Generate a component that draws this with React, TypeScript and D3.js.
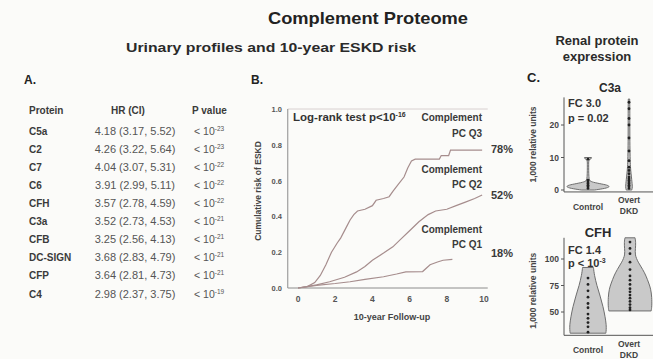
import * as d3 from "d3";

// ---- panel A: table ----
const proteins = ["C5a", "C2", "C7", "C6", "CFH", "C3a", "CFB", "DC-SIGN", "CFP", "C4"];
const hr = [4.18, 4.26, 4.04, 3.91, 3.57, 3.52, 3.25, 3.68, 3.64, 2.98];
const ciLow = [3.17, 3.22, 3.07, 2.99, 2.78, 2.73, 2.56, 2.83, 2.81, 2.37];
const ciHigh = [5.52, 5.64, 5.31, 5.11, 4.59, 4.53, 4.13, 4.79, 4.73, 3.75];
const pExp = [-23, -23, -22, -22, -22, -21, -21, -21, -21, -19];

// ---- panel B: cumulative ESKD risk by follow-up year ----
const q3Time = [0, 0.5, 0.9, 1.2, 1.5, 1.8, 2.1, 2.3, 2.6, 2.8, 3.0, 3.2, 3.6, 4.0, 4.2, 4.6, 4.9, 5.1, 5.4, 5.7, 5.9, 6.1, 6.3, 7.6, 7.7, 8.1, 8.2, 9.9];
const q3Risk = [0, 0.008, 0.03, 0.07, 0.13, 0.2, 0.25, 0.28, 0.34, 0.38, 0.41, 0.43, 0.44, 0.46, 0.49, 0.5, 0.51, 0.54, 0.58, 0.62, 0.67, 0.71, 0.72, 0.72, 0.74, 0.74, 0.77, 0.77];
const q2Time = [0, 1, 1.7, 2.5, 3.15, 3.6, 4, 4.6, 5.1, 5.5, 6.0, 6.5, 7.0, 7.4, 8.0, 8.5, 9.0, 9.5, 9.9];
const q2Risk = [0, 0.017, 0.035, 0.06, 0.09, 0.12, 0.155, 0.195, 0.23, 0.27, 0.32, 0.37, 0.41, 0.43, 0.44, 0.46, 0.48, 0.5, 0.52];
const q1Time = [0, 1, 2, 2.8, 3.6, 4.6, 5.3, 5.8, 6.7, 7.1, 7.5, 7.8, 8.3];
const q1Risk = [0, 0.015, 0.025, 0.035, 0.048, 0.063, 0.078, 0.09, 0.092, 0.13, 0.145, 0.155, 0.16];
const groupNames = ["PC Q3", "PC Q2", "PC Q1"];
const groupPct = ["78%", "52%", "18%"];
const xTicks = [0, 2, 4, 6, 8, 10];
const yTicks = [0, 0.2, 0.4, 0.6, 0.8, 1.0];

// ---- panel C: violins (value, relative density) ----
const c3aControlVal = [0, 0.5, 1, 1.5, 2, 2.5, 3, 4, 6, 8, 9.4, 9.6, 10];
const c3aControlDen = [0.3, 0.8, 1, 0.9, 0.5, 0.15, 0.06, 0.04, 0.03, 0.03, 0.03, 0.16, 0.16];
const c3aOvertVal = [0, 1, 2, 3, 5, 7, 10, 15, 20, 25, 28];
const c3aOvertDen = [0.2, 0.25, 0.22, 0.2, 0.15, 0.1, 0.08, 0.06, 0.06, 0.06, 0.05];
const c3aControlPts = [0.5, 1, 1.5, 2, 2.5, 3, 9.5];
const c3aOvertPts = [0.5, 1, 1.5, 2, 2.5, 3, 3.5, 4, 5, 6, 7, 9, 12, 16, 20, 22, 25, 27];
const cfhControlVal = [30, 33, 38, 45, 55, 65, 75, 85, 92];
const cfhControlDen = [0.85, 0.87, 0.87, 0.82, 0.72, 0.58, 0.42, 0.3, 0.26];
const cfhOvertVal = [51, 55, 64, 72, 77, 84, 90, 97, 104, 110, 116, 120];
const cfhOvertDen = [0.92, 0.95, 0.95, 0.9, 0.82, 0.7, 0.56, 0.35, 0.21, 0.24, 0.25, 0.22];
const cfhControlPts = [31, 36, 40, 44, 48, 54, 58, 64, 70, 76, 82];
const cfhOvertPts = [52, 54, 57, 60, 63, 66, 69, 72, 76, 80, 84, 90, 97, 105, 110, 116];

const FONT = "Liberation Sans, Arial, sans-serif";
const lineColor = "#a68d8d";
const axisColor = "#8c8c8c";

function zip(a: number[], b: number[]): [number, number][] {
  return a.map((v, i) => [v, b[i]]);
}

function Violin({ vals, dens, pts, cx, y, halfMax }: { vals: number[]; dens: number[]; pts: number[]; cx: number; y: d3.ScaleLinear<number, number>; halfMax: number }) {
  const w = d3.scaleLinear().domain([0, 1]).range([0, halfMax]);
  const area = d3
    .area<[number, number]>()
    .y((d) => y(d[0]))
    .x0((d) => cx - w(d[1]))
    .x1((d) => cx + w(d[1]))
    .curve(d3.curveBasis);
  return (
    <g>
      <path d={area(zip(vals, dens)) ?? ""} fill="#c9c9c9" stroke="#6e6e6e" strokeWidth={1} />
      {pts.map((p, i) => (
        <circle key={i} cx={cx} cy={y(p)} r={1.4} fill="#222" />
      ))}
    </g>
  );
}

export default function App() {
  // panel A
  const rowY = d3.scalePoint<string>().domain(proteins).range([131, 294]);

  // panel B
  const x = d3.scaleLinear().domain([0, 10]).range([298, 484]);
  const y = d3.scaleLinear().domain([0, 1]).range([288, 109]);
  const km = d3
    .line<[number, number]>()
    .x((d) => x(d[0]))
    .y((d) => y(d[1]));
  const curves = [zip(q3Time, q3Risk), zip(q2Time, q2Risk), zip(q1Time, q1Risk)];
  const labelY = [[121, 137], [173, 188], [233, 248]];
  const pctY = [153, 199, 257];

  // panel C
  const yC3a = d3.scaleLinear().domain([0, 20]).range([190, 125]);
  const yCfh = d3.scaleLinear().domain([50, 100]).range([312, 259]);
  const cxCtrl = 588;
  const cxOvert = 629;

  return (
    <svg width={653} height={359} style={{ position: "absolute", left: 0, top: 0, background: "#fbfbf9" }} fontFamily={FONT}>
      {/* titles */}
      <text x={368} y={24} textAnchor="middle" fontSize={17} fontWeight="bold" fill="#222" textLength={200} lengthAdjust="spacingAndGlyphs">Complement Proteome</text>
      <text x={271} y={52} textAnchor="middle" fontSize={13.5} fontWeight="bold" fill="#2a2a2a" textLength={290} lengthAdjust="spacingAndGlyphs">Urinary profiles and 10-year ESKD risk</text>
      <text x={597} y={45} textAnchor="middle" fontSize={13} fontWeight="bold" fill="#2a2a2a">Renal protein</text>
      <text x={597} y={61} textAnchor="middle" fontSize={13} fontWeight="bold" fill="#2a2a2a">expression</text>

      {/* A. table */}
      <text x={24} y={84} fontSize={12} fontWeight="bold" fill="#222">A.</text>
      <g fontSize={10} fontWeight="bold" fill="#3a3a3a">
        <text x={29} y={114}>Protein</text>
        <text x={128} y={114} textAnchor="middle">HR (CI)</text>
        <text x={192} y={114}>P value</text>
      </g>
      {proteins.map((p, i) => (
        <g key={p} transform={`translate(0,${rowY(p)! + 3.5})`}>
          <text x={29} y={0} fontSize={10} fontWeight="bold" fill="#3a3a3a">{p}</text>
          <text x={135} y={0} fontSize={11} textAnchor="middle" fill="#555">
            {`${hr[i].toFixed(2)} (${ciLow[i].toFixed(2)}, ${ciHigh[i].toFixed(2)})`}
          </text>
          <text x={194} y={0} fontSize={10.5} fill="#555">
            {"< 10"}
            <tspan dy={-4} fontSize={6.5}>{pExp[i]}</tspan>
          </text>
        </g>
      ))}

      {/* B. Kaplan-Meier */}
      <text x={251} y={84} fontSize={12} fontWeight="bold" fill="#222">B.</text>
      <line x1={x(-0.55)} x2={x(10.2)} y1={y(1)} y2={y(1)} stroke="#d8d0d0" />
      <line x1={x(-0.55)} x2={x(-0.55)} y1={y(1)} y2={y(0)} stroke={axisColor} />
      <line x1={x(-0.55)} x2={x(10.2)} y1={y(0)} y2={y(0)} stroke={axisColor} />
      {yTicks.map((t) => (
        <text key={t} x={282} y={y(t) + 3} textAnchor="end" fontSize={7.5} fontWeight="bold" fill="#555">{t.toFixed(1)}</text>
      ))}
      {xTicks.map((t) => (
        <text key={t} x={x(t)} y={302} textAnchor="middle" fontSize={8.5} fontWeight="bold" fill="#555">{t}</text>
      ))}
      <text x={392} y={320} textAnchor="middle" fontSize={9} fontWeight="bold" fill="#444">10-year Follow-up</text>
      <text transform="translate(261,191) rotate(-90)" textAnchor="middle" fontSize={8.5} fontWeight="bold" fill="#444">Cumulative risk of ESKD</text>
      {curves.map((c, i) => (
        <path key={i} d={km(c) ?? ""} fill="none" stroke={lineColor} strokeWidth={1.2} />
      ))}
      <text x={293} y={121} fontSize={11.5} fontWeight="bold" fill="#333">
        Log-rank test p&lt;10
        <tspan dy={-4} fontSize={7}>-16</tspan>
      </text>
      {groupNames.map((g, i) => (
        <g key={g} fontSize={10} fontWeight="bold" fill="#3a3a3a" textAnchor="end">
          <text x={482} y={labelY[i][0]}>Complement</text>
          <text x={482} y={labelY[i][1]}>{g}</text>
          <text x={491} y={pctY[i]} textAnchor="start" fontSize={11}>{groupPct[i]}</text>
        </g>
      ))}

      {/* C. violins */}
      <text x={527} y={82} fontSize={13} fontWeight="bold" fill="#222">C.</text>
      <text x={610} y={92} textAnchor="middle" fontSize={12} fontWeight="bold" fill="#2a2a2a">C3a</text>
      <line x1={564} x2={564} y1={yC3a(28.5)} y2={yC3a(-0.6)} stroke="#555" />
      <line x1={564} x2={653} y1={yC3a(-0.6)} y2={yC3a(-0.6)} stroke="#555" />
      {[0, 10, 20].map((t) => (
        <g key={t}>
          <line x1={561} x2={564} y1={yC3a(t)} y2={yC3a(t)} stroke="#555" />
          <text x={559} y={yC3a(t) + 3} textAnchor="end" fontSize={8.5} fontWeight="bold" fill="#444">{t}</text>
        </g>
      ))}
      <text transform={`translate(536,${yC3a(14)}) rotate(-90)`} textAnchor="middle" fontSize={8.5} fontWeight="bold" fill="#444">1,000 relative units</text>
      <Violin vals={c3aControlVal} dens={c3aControlDen} pts={c3aControlPts} cx={cxCtrl} y={yC3a} halfMax={22} />
      <Violin vals={c3aOvertVal} dens={c3aOvertDen} pts={c3aOvertPts} cx={cxOvert} y={yC3a} halfMax={14} />
      <text x={568} y={107} fontSize={11} fontWeight="bold" fill="#333">FC 3.0</text>
      <text x={568} y={122} fontSize={11} fontWeight="bold" fill="#333">p = 0.02</text>
      <text x={cxCtrl} y={210} textAnchor="middle" fontSize={8.5} fontWeight="bold" fill="#444">Control</text>
      <text x={cxOvert} y={203} textAnchor="middle" fontSize={8.5} fontWeight="bold" fill="#444">Overt</text>
      <text x={cxOvert} y={214} textAnchor="middle" fontSize={8.5} fontWeight="bold" fill="#444">DKD</text>

      <text x={598} y={237} textAnchor="middle" fontSize={13} fontWeight="bold" fill="#2a2a2a">CFH</text>
      <line x1={564} x2={564} y1={yCfh(120)} y2={yCfh(28)} stroke="#555" />
      <line x1={564} x2={653} y1={yCfh(28)} y2={yCfh(28)} stroke="#555" />
      {[50, 75, 100].map((t) => (
        <g key={t}>
          <line x1={561} x2={564} y1={yCfh(t)} y2={yCfh(t)} stroke="#555" />
          <text x={559} y={yCfh(t) + 3} textAnchor="end" fontSize={8.5} fontWeight="bold" fill="#444">{t}</text>
        </g>
      ))}
      <text transform={`translate(536,${yCfh(70)}) rotate(-90)`} textAnchor="middle" fontSize={8.5} fontWeight="bold" fill="#444">1,000 relative units</text>
      <Violin vals={cfhControlVal} dens={cfhControlDen} pts={cfhControlPts} cx={cxCtrl} y={yCfh} halfMax={21} />
      <Violin vals={cfhOvertVal} dens={cfhOvertDen} pts={cfhOvertPts} cx={cxOvert + 1} y={yCfh} halfMax={23} />
      <text x={568} y={254} fontSize={11} fontWeight="bold" fill="#333">FC 1.4</text>
      <text x={568} y={267} fontSize={11} fontWeight="bold" fill="#333">
        p &lt; 10
        <tspan dy={-4} fontSize={7}>-3</tspan>
      </text>
      <text x={cxCtrl} y={353} textAnchor="middle" fontSize={8.5} fontWeight="bold" fill="#444">Control</text>
      <text x={cxOvert} y={347} textAnchor="middle" fontSize={8.5} fontWeight="bold" fill="#444">Overt</text>
      <text x={cxOvert} y={358} textAnchor="middle" fontSize={8.5} fontWeight="bold" fill="#444">DKD</text>
    </svg>
  );
}
